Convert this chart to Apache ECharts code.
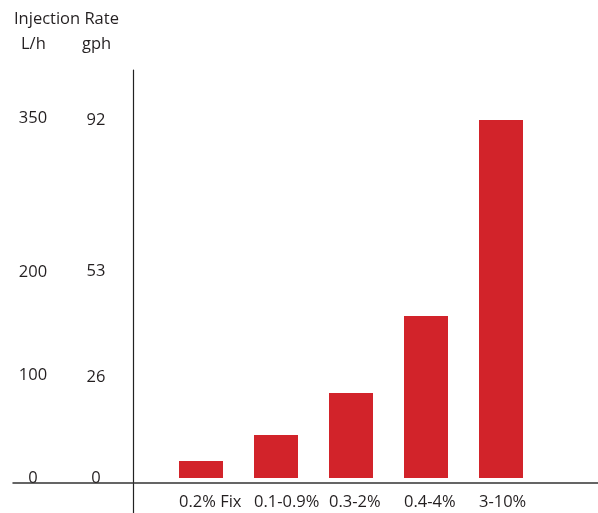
<!DOCTYPE html>
<html>
<head>
<meta charset="utf-8">
<script src="https://cdn.jsdelivr.net/npm/echarts@6/dist/echarts.min.js"></script>
<style>
html,body{margin:0;padding:0;background:#fff;}
#c{width:598px;height:513px;}
</style>
</head>
<body>
<div id="c"></div>
<script>
const categories = ['0.2% Fix', '0.1-0.9%', '0.3-2%', '0.4-4%', '3-10%'];
const rateLh = [16.5, 41.8, 82.6, 157.5, 348];
const tickLh = [0, 100, 200, 350];
const tickGph = [0, 26, 53, 92];
const L_PER_GAL = 3.785;

const FONT = 'Open Sans';
const FS = 16.5;
const TXT = '#231f20';
const yMin = -34, yMax = 396.7;

const chart = echarts.init(document.getElementById('c'), null, {renderer: 'canvas'});
chart.setOption({
  animation: false,
  backgroundColor: '#fff',
  title: [
    {text: 'Injection Rate', left: 9, top: 6, textStyle: {fontFamily: FONT, fontSize: FS, fontWeight: 'normal', color: TXT}},
    {text: 'L/h', left: 16, top: 31, textStyle: {fontFamily: FONT, fontSize: FS, fontWeight: 'normal', color: TXT}},
    {text: 'gph', left: 77, top: 31, textStyle: {fontFamily: FONT, fontSize: FS, fontWeight: 'normal', color: TXT}}
  ],
  grid: {left: 13, right: 0, top: 70, bottom: 0, containLabel: false},
  xAxis: {
    type: 'value',
    min: -2.5067, max: 5.2933,
    position: 'bottom',
    offset: -30,
    axisLine: {show: true, onZero: false, lineStyle: {color: '#333', width: 1.5}},
    axisTick: {show: false},
    splitLine: {show: false},
    axisLabel: {
      customValues: categories.map((c, i) => i),
      formatter: v => '{n|' + categories[Math.round(v)] + '}',
      align: 'center',
      width: 44,
      overflow: 'none',
      margin: 11,
      rich: {n: {align: 'left', fontFamily: FONT, fontSize: FS, color: TXT}},
      fontFamily: FONT, fontSize: FS, color: TXT
    }
  },
  yAxis: [
    {
      type: 'value', min: yMin / L_PER_GAL, max: yMax / L_PER_GAL,
      position: 'left', offset: -120,
      axisLine: {show: true, onZero: false, lineStyle: {color: '#222', width: 1.2}},
      axisTick: {show: false}, splitLine: {show: false},
      axisLabel: {customValues: tickGph, align: 'center', margin: 37, fontFamily: FONT, fontSize: FS, color: TXT}
    },
    {
      type: 'value', min: yMin, max: yMax,
      position: 'left', offset: -120,
      axisLine: {show: false, onZero: false},
      axisTick: {show: false}, splitLine: {show: false},
      axisLabel: {customValues: tickLh, align: 'center', margin: 100, fontFamily: FONT, fontSize: FS, color: TXT}
    }
  ],
  series: [{
    type: 'bar',
    yAxisIndex: 1,
    barWidth: 44,
    itemStyle: {color: '#d2232a'},
    data: rateLh.map((v, i) => [i, v])
  }]
});
</script>
</body>
</html>
